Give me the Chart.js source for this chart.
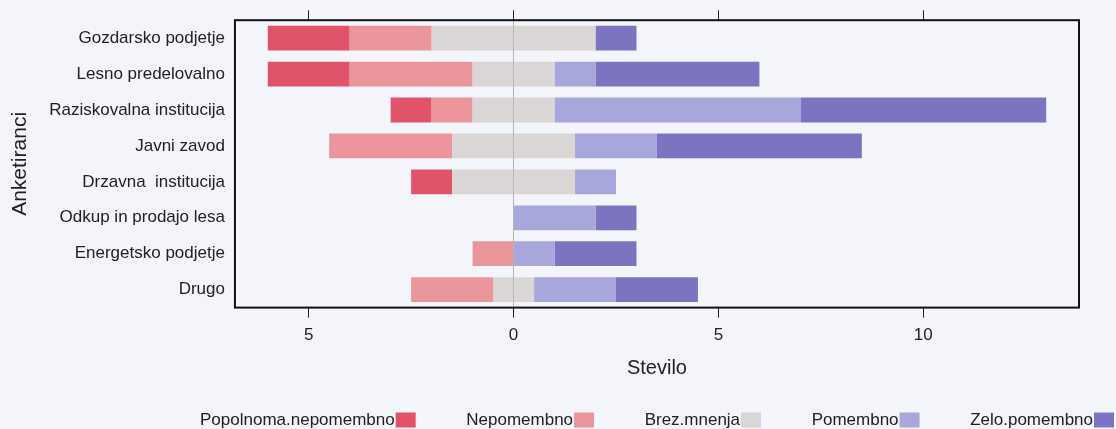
<!DOCTYPE html>
<html>
<head>
<meta charset="utf-8">
<script src="https://cdn.jsdelivr.net/npm/chart.js@4.4.1/dist/chart.umd.min.js"></script>
<style>
  html, body { margin: 0; padding: 0; background: #f3f5fb; }
  #wrap { width: 1116px; height: 429px; }
</style>
</head>
<body>
<div id="wrap"><canvas id="chart"></canvas></div>
<script>
const categories = [
  "Gozdarsko podjetje",
  "Lesno predelovalno",
  "Raziskovalna institucija",
  "Javni zavod",
  "Drzavna  institucija",
  "Odkup in prodajo lesa",
  "Energetsko podjetje",
  "Drugo",
];
const popolnomaNepomembno = [2, 2, 1, 0, 1, 0, 0, 0];
const nepomembno = [2, 3, 1, 3, 0, 0, 1, 2];
const brezMnenja = [4, 2, 2, 3, 3, 0, 0, 1];
const pomembno = [0, 1, 6, 2, 1, 2, 1, 2];
const zeloPomembno = [1, 4, 6, 5, 0, 1, 2, 2];
const xTicks = [-5, 0, 5, 10];

const legendOrder = ["Popolnoma.nepomembno", "Nepomembno", "Brez.mnenja", "Pomembno", "Zelo.pomembno"];
const colors = {
  popolnoma: "#e0536b",
  nepomembno: "#ea949c",
  brez: "#dad6d6",
  pomembno: "#a8a7dc",
  zelo: "#7c74c0",
};
const FONT = '"Liberation Sans", Arial, sans-serif';

const neg = (arr) => arr.map((v) => -v);
const half = (arr) => arr.map((v) => v / 2);

// okvir okoli risalne površine
const framePlugin = {
  id: "frame",
  afterDatasetsDraw(chart) {
    const { ctx, chartArea } = chart;
    ctx.save();
    ctx.strokeStyle = "#111";
    ctx.lineWidth = 2;
    ctx.strokeRect(chartArea.left, chartArea.top, chartArea.right - chartArea.left, chartArea.bottom - chartArea.top);
    ctx.restore();
  },
};

// legenda spodaj: besedilo, nato barvni kvadratek desno od njega
const legendPlugin = {
  id: "bottomLegend",
  afterDraw(chart) {
    const { ctx } = chart;
    const left = 200, right = 1114, y = 420, sw = 20, sh = 15;
    ctx.save();
    ctx.font = "17px " + FONT;
    ctx.textBaseline = "middle";
    const items = legendOrder.map((name) => {
      const ds = chart.data.datasets.find((d) => d.label === name);
      return { name, color: ds.backgroundColor, w: ctx.measureText(name).width };
    });
    const total = items.reduce((s, it) => s + it.w + 1 + sw, 0);
    const gap = (right - left - total) / (items.length - 1);
    let x = left;
    items.forEach((it) => {
      ctx.fillStyle = "#222";
      ctx.fillText(it.name, x, y);
      x += it.w + 1;
      ctx.fillStyle = it.color;
      ctx.fillRect(x, y - sh / 2, sw, sh);
      x += sw + gap;
    });
    ctx.restore();
  },
};

const ticksOnly = (scale) => {
  scale.ticks = xTicks.map((v) => ({ value: v }));
};

new Chart(document.getElementById("chart"), {
  type: "bar",
  data: {
    labels: categories,
    datasets: [
      { label: "Brez.mnenja", data: neg(half(brezMnenja)), backgroundColor: colors.brez },
      { label: "Nepomembno", data: neg(nepomembno), backgroundColor: colors.nepomembno },
      { label: "Popolnoma.nepomembno", data: neg(popolnomaNepomembno), backgroundColor: colors.popolnoma },
      { label: "Brez.mnenja (+)", data: half(brezMnenja), backgroundColor: colors.brez },
      { label: "Pomembno", data: pomembno, backgroundColor: colors.pomembno },
      { label: "Zelo.pomembno", data: zeloPomembno, backgroundColor: colors.zelo },
    ],
  },
  options: {
    indexAxis: "y",
    responsive: true,
    maintainAspectRatio: false,
    animation: false,
    datasets: {
      bar: { barPercentage: 0.69, categoryPercentage: 1.0, borderWidth: 0 },
    },
    layout: { padding: { top: 2, right: 37, left: 8, bottom: 49 } },
    scales: {
      x: {
        stacked: true,
        min: -6.8,
        max: 13.8,
        afterBuildTicks: ticksOnly,
        border: { display: false },
        grid: {
          color: (c) => (c.tick && c.tick.value === 0 ? "#b4b4b8" : "transparent"),
          tickColor: "#222",
          tickLength: 10,
          lineWidth: 1,
        },
        ticks: {
          color: "#222",
          font: { family: FONT, size: 17 },
          padding: 8,
          callback: (v) => Math.abs(v),
        },
        title: {
          display: true,
          text: "Stevilo",
          color: "#222",
          font: { family: FONT, size: 20 },
          padding: { top: 2, bottom: 0 },
        },
      },
      x2: {
        position: "top",
        min: -6.8,
        max: 13.8,
        afterBuildTicks: ticksOnly,
        border: { display: false },
        grid: { drawOnChartArea: false, tickColor: "#222", tickLength: 10 },
        ticks: { display: false },
      },
      y: {
        stacked: true,
        border: { display: false },
        grid: { display: false, drawTicks: false, tickLength: 0 },
        ticks: {
          color: "#222",
          font: { family: FONT, size: 17 },
          padding: 10,
        },
        title: {
          display: true,
          text: "Anketiranci",
          color: "#222",
          font: { family: FONT, size: 21 },
          padding: { top: 0, bottom: 6 },
        },
      },
    },
    plugins: {
      tooltip: { enabled: false },
      legend: { display: false },
    },
  },
  plugins: [framePlugin, legendPlugin],
});
</script>
</body>
</html>
